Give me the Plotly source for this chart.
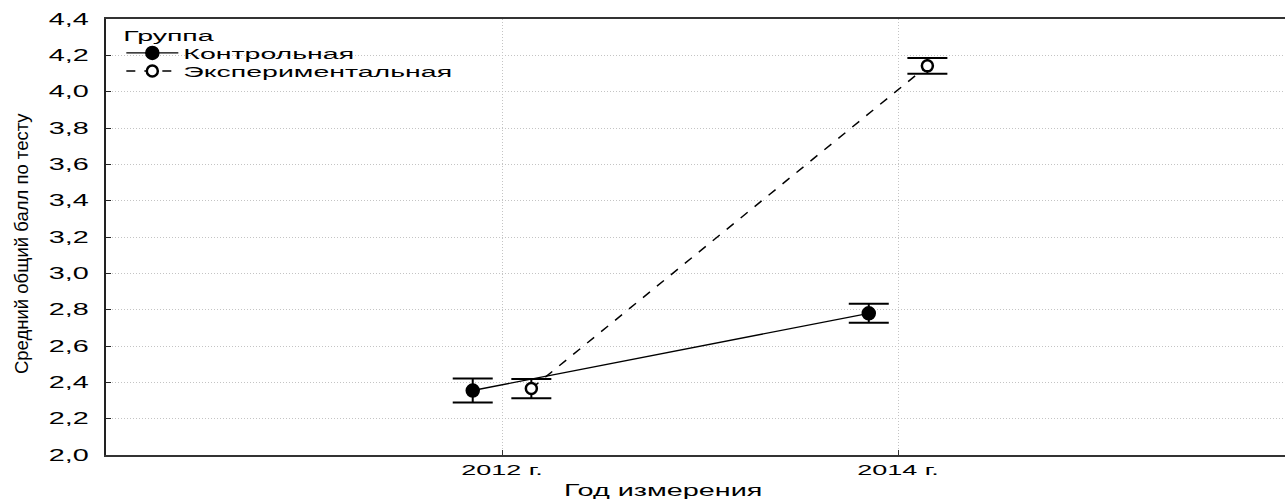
import plotly.graph_objects as go

# Measurement years (category labels on the x axis)
years = ["2012 г.", "2014 г."]

# Group means and error half-widths
control_mean = [2.355, 2.78]
control_err = [0.066, 0.052]
exper_mean = [2.366, 4.142]
exper_err = [0.053, 0.044]

y_ticks = [2.0, 2.2, 2.4, 2.6, 2.8, 3.0, 3.2, 3.4, 3.6, 3.8, 4.0, 4.2, 4.4]

base = list(range(len(years)))
shift = 0.074

fig = go.Figure()

fig.add_trace(go.Scatter(
    x=[b - shift for b in base], y=control_mean,
    mode="lines+markers", name="Контрольная",
    line=dict(color="black", width=1.3, dash="solid"),
    marker=dict(symbol="circle", size=13, color="black",
                line=dict(color="black", width=1.5)),
    error_y=dict(type="data", array=control_err, visible=True,
                 color="black", thickness=2, width=20),
))

fig.add_trace(go.Scatter(
    x=[b + shift for b in base], y=exper_mean,
    mode="lines+markers", name="Экспериментальная",
    line=dict(color="black", width=1.5, dash="dash"),
    marker=dict(symbol="circle", size=11, color="white",
                line=dict(color="black", width=2.5)),
    error_y=dict(type="data", array=exper_err, visible=True,
                 color="black", thickness=2, width=20),
))

fig.add_annotation(
    text="Год измерения", xref="paper", yref="paper",
    x=0.4724, y=-0.0825, xanchor="center", yanchor="middle",
    showarrow=False, font=dict(size=16, color="black"),
)
fig.add_annotation(
    text="Средний общий балл по тесту", xref="paper", yref="paper",
    x=-0.0712, y=0.484, xanchor="center", yanchor="middle",
    textangle=-90, showarrow=False,
    font=dict(size=18.5, color="black"),
)

fig.update_layout(
    width=1285, height=503,
    margin=dict(l=106, r=0, t=19, b=48),
    paper_bgcolor="white", plot_bgcolor="white",
    separators=", ",
    font=dict(family="Liberation Sans, Arial, sans-serif", size=15, color="black"),
    showlegend=True,
    legend=dict(
        title=dict(text="Группа", font=dict(size=15)),
        x=0.013, y=0.995, xanchor="left", yanchor="top",
        bgcolor="rgba(0,0,0,0)", font=dict(size=15),
        tracegroupgap=0, itemwidth=52,
    ),
    xaxis=dict(
        range=[-1, 1.977],
        tickmode="array", tickvals=base, ticktext=years,
        showline=True, linecolor="#333", linewidth=2, mirror=True,
        ticks="inside", ticklen=5, tickcolor="#333",
        showgrid=True, gridcolor="#c4c4c4", griddash="1px,2px", gridwidth=1,
        zeroline=False,
        tickfont=dict(size=15),
    ),
    yaxis=dict(
        range=[2.0, 4.4],
        tickmode="array", tickvals=y_ticks, tickformat=".1f",
        showline=True, linecolor="#222", linewidth=2,
        ticks="inside", ticklen=5, tickcolor="#222",
        ticklabelstandoff=12,
        showgrid=True, gridcolor="#c4c4c4", griddash="1px,2px", gridwidth=1,
        zeroline=False,
        tickfont=dict(size=16),
    ),
)

# Widen the horizontal labels (scale each text about its own anchor x),
# tighten the legend rows and let the widened legend text show in full.
widen_js = """
var gd = document.getElementById('{plot_id}');
function widenEl(t, s) {
  var x = parseFloat(t.getAttribute('x') || 0);
  var tr = t.getAttribute('transform') || '';
  t.setAttribute('transform', tr + ' translate(' + x + ',0) scale(' + s + ',1) translate(' + (-x) + ',0)');
}
function widen(sel, s) {
  gd.querySelectorAll(sel).forEach(function (t) { widenEl(t, s); });
}
widen('.xtick text', 1.8);
widen('.ytick text', 1.8);
widen('.legendtext', 1.9);
widen('.legendtitletext', 1.9);
gd.querySelectorAll('.annotation-text').forEach(function (t) {
  if (t.textContent === 'Год измерения') { widenEl(t, 1.8); }
});
gd.querySelectorAll('.legend .scrollbox, .legend').forEach(function (g) {
  g.removeAttribute('clip-path');
});
var rows = gd.querySelectorAll('.legend g.traces');
var y0 = null;
rows.forEach(function (g, i) {
  var m = /translate\\(\\s*([-\\d.]+)[ ,]+([-\\d.]+)\\s*\\)/.exec(g.getAttribute('transform') || '');
  if (!m) { return; }
  var x = parseFloat(m[1]), y = parseFloat(m[2]);
  if (y0 === null) { y0 = y - 4; }
  g.setAttribute('transform', 'translate(' + x + ',' + (y0 + i * 18) + ')');
});
"""

fig.write_html("out.html", post_script=widen_js)
